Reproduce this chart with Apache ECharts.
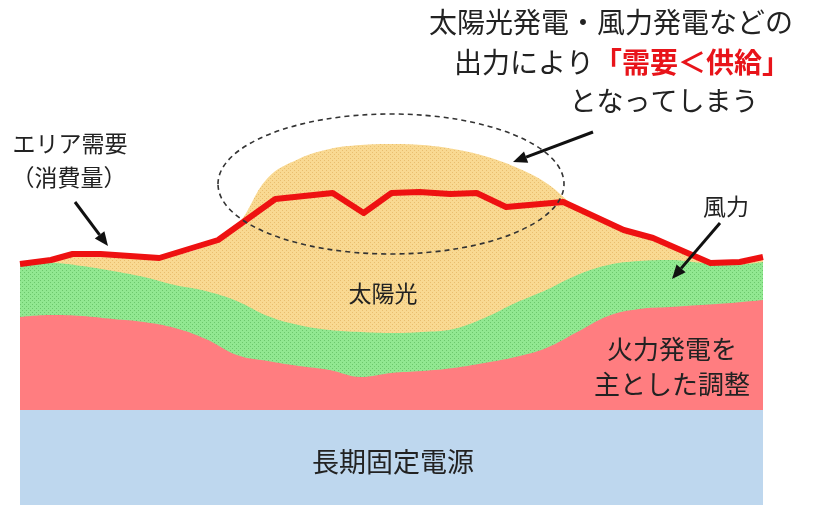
<!DOCTYPE html>
<html>
<head>
<meta charset="utf-8">
<script src="https://cdn.jsdelivr.net/npm/echarts@6/dist/echarts.min.js"></script>
<style>
html,body{margin:0;padding:0;background:#fff;}
#c{width:819px;height:505px;}
</style>
</head>
<body>
<div id="c"></div>
<script>
// ---- data (hour of day, arbitrary output units) ----
const hours = [0,1,2,3,4,5,6,7,8,9,10,11,12,13,14,15,16,17,18,19,20,21,22,23,24];
const baseLoad = [95,95,95,95,95,95,95,95,95,95,95,95,95,95,95,95,95,95,95,95,95,95,95,95,95];
const thermalTop = [188,190,189,186,183,177,166,150,144,139,135,128,132,134,137,142,148,157,173,189,196,198,200,202,205];
const windTop = [241,242,239,234,228,220,214,204,189,180,175,173,172,173,176,187,202,215,230,240,244,245,242,240,243];
const solarTop = [239,243,249,248,246,250,259,279,327,346,356,360,361,360,356,349,338,322,297,281,269,258,244,241,246];
const demandHours = [0,1,1.7,2.6,4.5,6.4,8.25,10.1,11.1,12,12.9,13.9,14.75,15.7,17.55,19.5,20.45,22.3,23.25,24];
const demandValues = [241,245,251,251,247,265,306,312,292,312,313,311,312,298,303,275,267,242,243,248];

const labels = {
  head1: '太陽光発電・風力発電などの',
  head2a: '出力により',
  head2b: '「需要＜供給」',
  head3: 'となってしまう',
  demand1: 'エリア需要',
  demand2: '（消費量）',
  solar: '太陽光',
  wind: '風力',
  thermal1: '火力発電を',
  thermal2: '主とした調整',
  base: '長期固定電源'
};

function pair(xs, ys){ return xs.map((x,i)=>[x, ys[i]]); }

function dotted(base, dot){
  const c = document.createElement('canvas');
  c.width = 4; c.height = 4;
  const g = c.getContext('2d');
  g.fillStyle = base; g.fillRect(0,0,4,4);
  g.fillStyle = dot; g.fillRect(0,0,1,1); g.fillRect(2,2,1,1);
  return {image: c, repeat: 'repeat'};
}

const FONT = '"Noto Sans CJK JP", "Noto Sans CJK SC", sans-serif';

function txt(text, x, y, size, extra){
  return {
    type:'text', x:x, y:y, z:100,
    style: Object.assign({text:text, fill:'#222', font: size + 'px ' + FONT, textAlign:'center', textVerticalAlign:'middle'}, extra||{})
  };
}

function arrow(x1,y1,x2,y2){
  const ang = Math.atan2(y2-y1, x2-x1);
  const L = 14, W = 6;
  const bx = x2 - L*Math.cos(ang), by = y2 - L*Math.sin(ang);
  const px = -Math.sin(ang)*W, py = Math.cos(ang)*W;
  return [
    {type:'line', z:100, shape:{x1:x1,y1:y1,x2:bx,y2:by}, style:{stroke:'#111', lineWidth:3}},
    {type:'polygon', z:100, shape:{points:[[x2,y2],[bx+px,by+py],[bx-px,by-py]]}, style:{fill:'#111'}}
  ];
}

const chart = echarts.init(document.getElementById('c'));

const areaSeries = (name, data, color, smooth) => ({
  name: name, type:'line', data: data, smooth: smooth, showSymbol:false, silent:true,
  lineStyle:{width:0}, areaStyle:{color: color, opacity:1, origin:'start'}
});

const option = {
  animation:false,
  grid:{left:20, right:56, top:105, bottom:0},
  xAxis:{type:'value', min:0, max:24, show:false},
  yAxis:{type:'value', min:0, max:400, show:false},
  series:[
    areaSeries('太陽光', pair(hours, solarTop), dotted('#f9d992', '#e9bd6e'), 0.4),
    areaSeries('風力', pair(hours, windTop), dotted('#91e891', '#6cc76c'), 0.4),
    areaSeries('火力', pair(hours, thermalTop), '#ff7d80', 0.4),
    areaSeries('長期固定電源', pair(hours, baseLoad), '#bed7ee', false),
    {name:'エリア需要', type:'line', data: pair(demandHours, demandValues), smooth:false, showSymbol:false,
     lineStyle:{color:'#ee1111', width:6, join:'round'}, z:5}
  ],
  graphic: [
    {type:'ellipse', z:90, shape:{cx:391, cy:184, rx:173, ry:70}, style:{fill:'none', stroke:'#333', lineWidth:1.6, lineDash:[5,4]}},
    txt(labels.head1, 611, 22, 28),
    {type:'text', x:622, y:62, z:100, style:{
      text: labels.head2a + '{r|' + labels.head2b + '}',
      fill:'#222', font:'28px ' + FONT, textAlign:'center', textVerticalAlign:'middle',
      rich:{r:{fill:'#e8141a', fontWeight:'bold', fontSize:28, fontFamily:FONT}}
    }},
    txt(labels.head3, 664, 101, 27),
    txt(labels.demand1, 70, 143, 23),
    txt(labels.demand2, 69, 177, 23),
    txt(labels.solar, 383, 293, 23),
    txt(labels.wind, 726, 206, 23),
    txt(labels.thermal1, 672, 349, 26),
    txt(labels.thermal2, 672, 384, 26),
    txt(labels.base, 393, 462, 27),
    ...arrow(593,132,513,162),
    ...arrow(75,202,108,246),
    ...arrow(720,223,672,279)
  ]
};
chart.setOption(option);
</script>
</body>
</html>
